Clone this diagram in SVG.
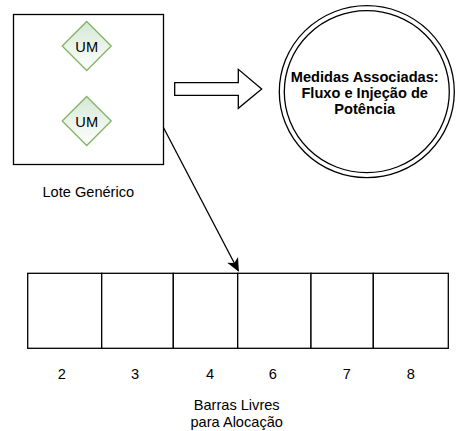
<svg xmlns="http://www.w3.org/2000/svg" width="466" height="431" viewBox="0 0 466 431">
  <defs>
    <linearGradient id="g" x1="0" y1="0" x2="0" y2="1">
      <stop offset="0" stop-color="#d5e8d4"/>
      <stop offset="1" stop-color="#ffffff"/>
    </linearGradient>
    <marker id="arr" markerUnits="userSpaceOnUse" markerWidth="14" markerHeight="12" viewBox="-12 -6 14 12" refX="0" refY="0" orient="auto" overflow="visible">
      <path d="M0,0 L-11,-5 L-8,0 L-11,5 Z" fill="#000" stroke="#000" stroke-width="1"/>
    </marker>
  </defs>
  <style>
    .box { fill: #ffffff; stroke: #000; stroke-width: 1.3; }
    .dia { fill: url(#g); stroke: #82b366; stroke-width: 1.3; }
    .t { font-family: "Liberation Sans", Arial, sans-serif; font-size: 14.6px; fill: #000; text-anchor: middle; }
    .b { font-weight: bold; }
    .bar { fill: #ffffff; stroke: #000; stroke-width: 1.3; }
  </style>
  <rect width="466" height="431" fill="#ffffff"/>

  <g id="lote">
    <rect class="box" x="13.5" y="14.5" width="150" height="150"/>
  </g>
  <g id="um1">
    <path class="dia" d="M86.7,21.5 L111.2,46 L86.7,70.5 L62.2,46 Z"/>
    <text class="t" x="86.7" y="52.3" fill="#333">UM</text>
  </g>
  <g id="um2">
    <path class="dia" d="M86.7,96.5 L111.2,121 L86.7,145.5 L62.2,121 Z"/>
    <text class="t" x="86.7" y="127.3">UM</text>
  </g>
  <g id="lote-label">
    <text class="t" x="88.3" y="197">Lote Genérico</text>
  </g>

  <g id="block-arrow">
    <path d="M174.7,82.7 L238.3,82.7 L238.3,69.3 L261.7,89 L238.3,108.3 L238.3,95.3 L174.7,95.3 Z" fill="#ffffff" stroke="#000" stroke-width="1.3"/>
  </g>

  <g id="medidas">
    <ellipse cx="366.8" cy="91.7" rx="87.5" ry="86" fill="#ffffff" stroke="#000" stroke-width="1.3"/>
    <ellipse cx="366.8" cy="91.7" rx="82.5" ry="81" fill="none" stroke="#000" stroke-width="1.3"/>
    <text class="t b" x="364.7" y="81.6">Medidas Associadas:</text>
    <text class="t b" x="364.7" y="98">Fluxo e Injeção de</text>
    <text class="t b" x="364.7" y="114.4">Potência</text>
  </g>

  <g id="barras">
    <rect class="bar" x="27.7" y="273.3" width="74" height="75"/>
    <rect class="bar" x="101.7" y="273.3" width="71.6" height="75"/>
    <rect class="bar" x="173.3" y="273.3" width="64.4" height="75"/>
    <rect class="bar" x="237.7" y="273.3" width="73.3" height="75"/>
    <rect class="bar" x="311" y="273.3" width="62.3" height="75"/>
    <rect class="bar" x="373.3" y="273.3" width="75" height="75"/>
    <text class="t" x="61.7" y="379">2</text>
    <text class="t" x="135" y="379">3</text>
    <text class="t" x="210" y="379">4</text>
    <text class="t" x="272.7" y="379">6</text>
    <text class="t" x="346.7" y="379">7</text>
    <text class="t" x="410.7" y="379">8</text>
    <text class="t" x="236.7" y="410">Barras Livres</text>
    <text class="t" x="236.7" y="426.5">para Alocação</text>
  </g>

  <g id="connectors">
    <line x1="163.3" y1="127.3" x2="238.3" y2="270.7" stroke="#000" stroke-width="1.3" marker-end="url(#arr)"/>
  </g>
</svg>
